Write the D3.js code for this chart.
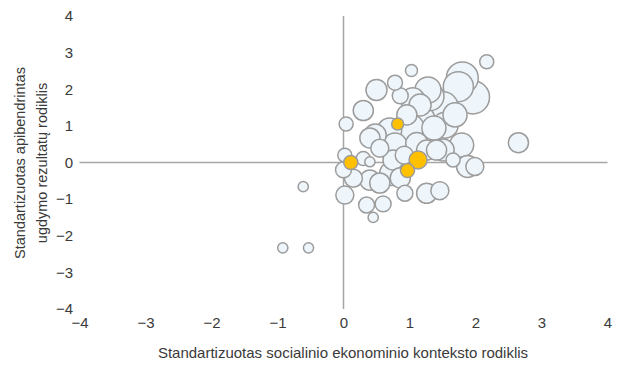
<!DOCTYPE html>
<html>
<head>
<meta charset="utf-8">
<script src="https://cdn.jsdelivr.net/npm/d3@7"></script>
<style>
  body { margin: 0; background: #fff; }
  text { font-family: "Liberation Sans", Arial, sans-serif; fill: #3a3a3a; }
</style>
</head>
<body>
<svg width="625" height="365"></svg>
<script>
const svg = d3.select('svg');

// tick values for both axes
const ticks = [-4, -3, -2, -1, 0, 1, 2, 3, 4];

// light bubbles: socio-economic context (x), results (y), size (pupils)
const xVals = [-0.92, -0.53, -0.61, 0.04, 0.30, 0.50, 0.78, 1.03, 2.17, 1.96,
               1.74, 1.80, 1.51, 1.31, 1.37, 1.28, 0.86, 1.05, 1.11, 1.79,
               2.65, 1.88, 1.99, 1.66, 1.51, 1.26, 1.46, 0.93, 0.60, 0.35,
               0.45, 0.02, 0.15, 0.00, 0.02, 0.40, 0.30, 0.55, 0.48, 0.75,
               0.73, 0.40, 0.55, 0.70, 0.93, 1.16, 1.26, 1.41, 0.40, 0.96, 0.92,
               1.01, 0.78, 1.16, 1.54, 0.86, 1.69];
const yVals = [-2.33, -2.33, -0.66, 1.05, 1.42, 1.98, 2.18, 2.51, 2.75, 1.78,
               2.07, 2.31, 1.52, 1.80, 0.94, 1.98, 1.82, 1.71, 0.52, 0.48,
               0.54, -0.11, -0.11, 0.07, 0.34, -0.84, -0.77, -0.84, -1.13, -1.16,
               -1.50, -0.89, -0.43, -0.20, 0.20, 0.02, 0.11, 0.39, 0.75, 0.07,
               -0.30, -0.48, -0.56, 0.89, 0.61, 1.16, 0.34, 0.34, 0.67, 1.30, 0.20,
               0.94, 0.48, 1.57, 1.02, -0.42, 1.30];
const sizeVals = [90, 90, 90, 170, 350, 380, 195, 125, 170, 960,
                  780, 880, 780, 680, 500, 585, 220, 500, 420, 500,
                  350, 420, 280, 170, 420, 350, 280, 220, 220, 220,
                  90, 280, 280, 220, 170, 90, 170, 280, 420, 350,
                  500, 350, 350, 500, 680, 780, 350, 350, 350, 350, 280,
                  680, 500, 420, 585, 350, 500];

// highlighted (orange) bubbles
const hiX = [0.11, 1.13, 0.97, 0.82];
const hiY = [0.00, 0.07, -0.22, 1.05];
const hiSize = [170, 280, 170, 125];

const x = d3.scaleLinear().domain([-4, 4]).range([79.5, 607.5]);
const y = d3.scaleLinear().domain([-4, 4]).range([309, 16]);
const r = d3.scaleSqrt().domain([0, 1000]).range([0, 17]);

// zero lines
svg.append('line')
    .attr('x1', x(-4)).attr('x2', x(4))
    .attr('y1', y(0)).attr('y2', y(0))
    .style('stroke', '#a6a6a6').style('stroke-width', 1.5);
svg.append('line')
    .attr('x1', x(0)).attr('x2', x(0))
    .attr('y1', y(4)).attr('y2', y(-4))
    .style('stroke', '#a6a6a6').style('stroke-width', 1.5);

// tick labels through d3 axes, lines hidden
let xAxis = svg.append('g')
    .attr('transform', 'translate(0,' + 317 + ')')
    .call(d3.axisBottom(x).tickValues(ticks).tickSize(0).tickPadding(0).tickFormat(d3.format('d')));
let yAxis = svg.append('g')
    .attr('transform', 'translate(' + 73 + ',0)')
    .call(d3.axisLeft(y).tickValues(ticks).tickSize(0).tickPadding(0).tickFormat(d3.format('d')));
[xAxis, yAxis].forEach(a => {
    a.select('.domain').remove();
    a.selectAll('text').style('font-size', '15px').attr('fill', '#3a3a3a')
        .style('font-family', '"Liberation Sans", Arial, sans-serif');
});

const light = xVals.map((d, i) => ({x: d, y: yVals[i], s: sizeVals[i], hi: false}))
    .sort((a, b) => b.s - a.s);
const orange = hiX.map((d, i) => ({x: d, y: hiY[i], s: hiSize[i], hi: true}));

svg.append('g').selectAll('circle')
    .data(light.concat(orange))
    .enter().append('circle')
    .attr('cx', d => x(d.x))
    .attr('cy', d => y(d.y))
    .attr('r', d => r(d.s))
    .style('fill', d => d.hi ? '#ffc000' : '#eef6fc')
    .style('stroke', '#9c9c9c')
    .style('stroke-width', 1.5);

// axis titles
svg.append('text')
    .attr('x', 343).attr('y', 358)
    .style('text-anchor', 'middle').style('font-size', '15px')
    .text('Standartizuotas socialinio ekonominio konteksto rodiklis');

let yTitle = svg.append('text')
    .attr('transform', 'translate(0,163) rotate(-90)')
    .style('text-anchor', 'middle').style('font-size', '14.5px');
yTitle.append('tspan').attr('x', 0).attr('y', 25).text('Standartizuotas apibendrintas');
yTitle.append('tspan').attr('x', 0).attr('y', 47).text('ugdymo rezultatų rodiklis');
</script>
</body>
</html>
